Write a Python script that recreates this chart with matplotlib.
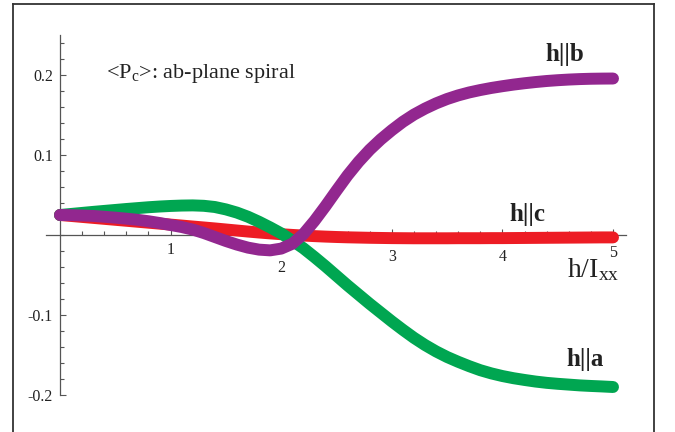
import matplotlib
matplotlib.use("Agg")
import matplotlib.pyplot as plt
import numpy as np
from matplotlib.lines import Line2D

plt.rcParams["font.family"] = ["Liberation Serif", "DejaVu Serif"]
plt.rcParams["mathtext.fontset"] = "custom"
plt.rcParams["mathtext.rm"] = "Liberation Serif"
plt.rcParams["mathtext.it"] = "Liberation Serif:italic"
plt.rcParams["mathtext.bf"] = "Liberation Serif:bold"

# field h / I_xx
h = [0.0, 0.1, 0.2, 0.3, 0.4, 0.5, 0.6, 0.7, 0.8, 0.9,
     1.0, 1.1, 1.2, 1.3, 1.4, 1.5, 1.6, 1.7, 1.8, 1.9,
     2.0, 2.1, 2.2, 2.3, 2.4, 2.5, 2.6, 2.7, 2.8, 2.9,
     3.0, 3.1, 3.2, 3.3, 3.4, 3.5, 3.6, 3.7, 3.8, 3.9,
     4.0, 4.1, 4.2, 4.3, 4.4, 4.5, 4.6, 4.7, 4.8, 4.9, 5.0]

# <P_c> for h || a
p_a = [0.0250, 0.0263, 0.0276, 0.0289, 0.0301, 0.0313, 0.0325, 0.0336, 0.0347, 0.0356,
       0.0363, 0.0368, 0.0370, 0.0365, 0.0350, 0.0320, 0.0280, 0.0228, 0.0165, 0.0095,
       0.0020, -0.0070, -0.0165, -0.0275, -0.0390, -0.0510, -0.0630, -0.0745, -0.0860, -0.0970,
       -0.1080, -0.1185, -0.1285, -0.1375, -0.1455, -0.1525, -0.1585, -0.1640, -0.1690, -0.1730,
       -0.1763, -0.1790, -0.1812, -0.1832, -0.1848, -0.1860, -0.1870, -0.1880, -0.1887, -0.1893,
       -0.1900]
# <P_c> for h || b
p_b = [0.0250, 0.0248, 0.0244, 0.0238, 0.0228, 0.0217, 0.0204, 0.0190, 0.0172, 0.0150,
       0.0125, 0.0100, 0.0068, 0.0025, -0.0025, -0.0075, -0.0120, -0.0158, -0.0183, -0.0192,
       -0.0170, -0.0110, 0.0010, 0.0175, 0.0360, 0.0555, 0.0745, 0.0915, 0.1065, 0.1195,
       0.1310, 0.1415, 0.1505, 0.1580, 0.1645, 0.1700, 0.1745, 0.1782, 0.1812, 0.1838,
       0.1860, 0.1880, 0.1897, 0.1912, 0.1925, 0.1935, 0.1943, 0.1949, 0.1953, 0.1955,
       0.1956]
# <P_c> for h || c
p_c = [0.0250, 0.0238, 0.0226, 0.0214, 0.0202, 0.0190, 0.0178, 0.0166, 0.0154, 0.0142,
       0.0130, 0.0118, 0.0106, 0.0094, 0.0082, 0.0069, 0.0056, 0.0043, 0.0031, 0.0020,
       0.0010, 0.0001, -0.0007, -0.0014, -0.0020, -0.0025, -0.0029, -0.0032, -0.0035, -0.0037,
       -0.0039, -0.0040, -0.0041, -0.0041, -0.0041, -0.0041, -0.0040, -0.0040, -0.0040, -0.0039,
       -0.0039, -0.0038, -0.0037, -0.0036, -0.0035, -0.0034, -0.0033, -0.0032, -0.0031, -0.0030,
       -0.0030]

xticks = [1, 2, 3, 4, 5]
xticklabels = ["1", "2", "3", "4", "5"]
yticks = [-0.2, -0.1, 0.1, 0.2]
yticklabels = ["-0.2", "-0.1", "0.1", "0.2"]

fig = plt.figure(figsize=(6.75, 4.32), dpi=100)
ax = fig.add_axes([0.03973, 0.011574, 0.93396, 0.944444])
ax.set_xlim(-0.3, 5.4)
ax.set_ylim(-0.24, 0.27)

lw = 8.6
ax.plot(h, p_c, color="#ED1C24", lw=lw, solid_capstyle="round", solid_joinstyle="round")
ax.plot(h, p_a, color="#00A651", lw=lw, solid_capstyle="round", solid_joinstyle="round")
ax.plot(h, p_b, color="#92278F", lw=lw, solid_capstyle="round", solid_joinstyle="round")

# axes through the origin
for s in ["top", "right"]:
    ax.spines[s].set_visible(False)
ax.spines["left"].set_position(("data", 0))
ax.spines["bottom"].set_position(("data", 0))
ax.spines["left"].set_bounds(-0.2, 0.25)
ax.spines["bottom"].set_bounds(-0.13, 5.12)
for s in ["left", "bottom"]:
    ax.spines[s].set_color("#555555")
    ax.spines[s].set_linewidth(0.9)
    ax.spines[s].set_zorder(0.5)

ax.set_xticks(xticks)
ax.set_xticklabels(xticklabels)
ax.set_yticks(yticks)
ax.set_yticklabels(yticklabels)
ax.set_xticks(np.round(np.arange(0.2, 4.9, 0.2), 2), minor=True)
ax.set_yticks(np.round(np.arange(-0.18, 0.25, 0.02), 2), minor=True)
ax.tick_params(which="both", direction="in", color="#555555", width=0.8,
               labelsize=11.5, labelcolor="#222222")
ax.tick_params(which="major", length=4)
ax.tick_params(which="minor", length=3)
ax.tick_params(axis="y", pad=5)
for tick, pad in zip(ax.xaxis.get_major_ticks(), [5, 18, 10, 10, 7]):
    tick.set_pad(pad)

ax.text(0.416, 0.196, "<P$_\\mathrm{c}$>: ab-plane spiral", fontsize=16,
        ha="left", va="baseline", color="#222222")
ax.text(4.566, 0.218, "h||b", fontsize=18, fontweight="bold", ha="center",
        va="baseline", color="#222222")
ax.text(4.23, 0.0169, "h||c", fontsize=18, fontweight="bold", ha="center",
        va="baseline", color="#222222")
ax.text(4.75, -0.1635, "h||a", fontsize=18, fontweight="bold", ha="center",
        va="baseline", color="#222222")
ax.text(4.584, -0.052, "h/I$_\\mathrm{xx}$", fontsize=20, ha="left",
        va="baseline", color="#222222")

# frame around the panel
L, R, T = 13 / 675, 654 / 675, 1 - 4 / 432
for xs, ys in [([L, L], [0, T]), ([L, R], [T, T]), ([R, R], [0, T])]:
    fig.add_artist(Line2D(xs, ys, transform=fig.transFigure, color="#333333", lw=1.3))

fig.savefig("out.png", dpi=100)
